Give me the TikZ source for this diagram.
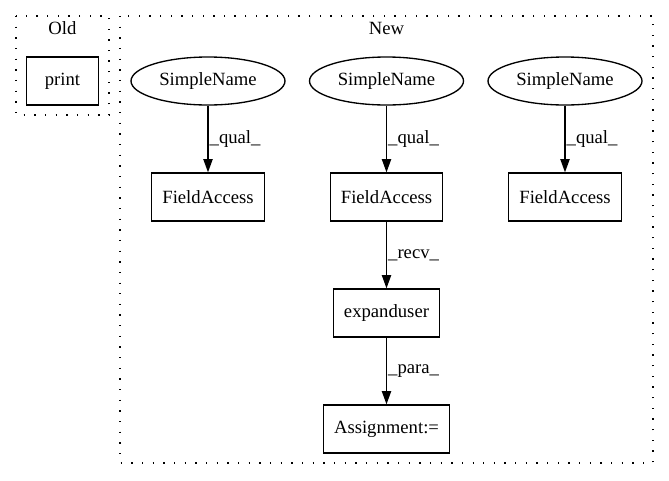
\documentclass[tikz,border=0pt]{standalone}
\usepackage{fontspec}
\setmainfont{Liberation Serif}
\usetikzlibrary{shapes.geometric,arrows.meta}

\tikzset{
  lbl/.style={font=\fontsize{18.67pt}{22pt}\selectfont},
  boxnode/.style={lbl, draw, rectangle, line width=1.33pt, minimum height=48pt,
    inner xsep=10.67pt, inner ysep=0pt},
  namenode/.style={lbl, draw, ellipse, line width=1.33pt, minimum width=154pt,
    minimum height=48pt, inner sep=0pt},
  cluster/.style={draw, line width=1.33pt, dash pattern=on 1.33pt off 9.33pt},
  flow/.style={line width=1.33pt, -{Triangle[length=13.3pt,width=9.3pt]}},
  elabel/.style={lbl, anchor=west, inner sep=0pt, xshift=1pt},
}

\begin{document}
\begin{tikzpicture}[x=1pt,y=-1pt]
  \useasboundingbox (0,0) rectangle (669,480);

  % clusters
  \draw[cluster] (16,16) rectangle (109,115);
  \node[lbl, anchor=base] (oldlabel) at (62.5,34) {Old};
  \draw[cluster] (120,16) rectangle (653,463);
  \node[lbl, anchor=base] (newlabel) at (386.5,34) {New};

  % Old
  \node[boxnode, minimum width=72pt] (print) at (62.5,81) {print};

  % New
  \node[namenode] (sn1) at (208,81) {SimpleName};
  \node[namenode] (sn2) at (386.5,81) {SimpleName};
  \node[namenode] (sn3) at (565,81) {SimpleName};

  \node[boxnode] (fa1) at (208,197) {FieldAccess};
  \node[boxnode] (fa2) at (386.5,197) {FieldAccess};
  \node[boxnode] (fa3) at (565,197) {FieldAccess};

  \node[boxnode] (exp) at (386.5,313) {expanduser};
  \node[boxnode] (asg) at (386.5,429) {Assignment:=};

  % edges
  \draw[flow] (sn1) -- node[elabel] {\_qual\_} (fa1);
  \draw[flow] (sn2) -- node[elabel] {\_qual\_} (fa2);
  \draw[flow] (sn3) -- node[elabel] {\_qual\_} (fa3);
  \draw[flow] (fa2) -- node[elabel] {\_recv\_} (exp);
  \draw[flow] (exp) -- node[elabel] {\_para\_} (asg);
\end{tikzpicture}
\end{document}
